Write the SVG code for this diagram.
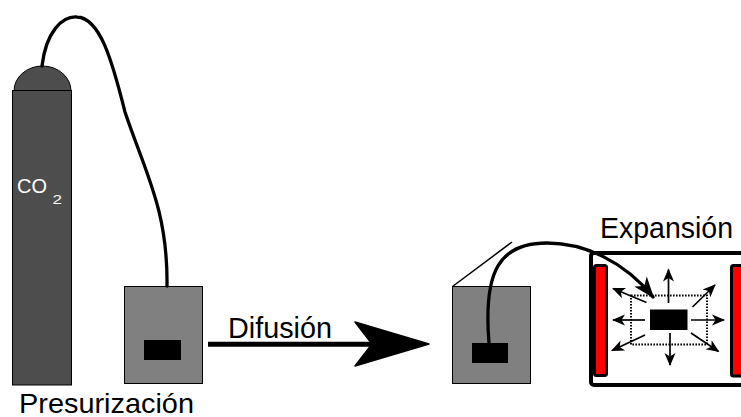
<svg xmlns="http://www.w3.org/2000/svg" width="741" height="417" viewBox="0 0 741 417">
  <style>
    .lbl { font-family: "Liberation Sans", Arial, sans-serif; fill: #000; }
    .hose { fill: none; stroke: #000; stroke-width: 3.3; stroke-linecap: round; }
    .box { fill: #808080; stroke: #000; stroke-width: 1; }
    .chip { fill: #000; }
    .ray { stroke: #000; stroke-width: 1.7; fill: none; marker-end: url(#tip); }
    .wall { fill: #ff0000; stroke: #000; stroke-width: 3; }
  </style>
  <defs>
    <marker id="tip" markerUnits="userSpaceOnUse" markerWidth="16" markerHeight="14" viewBox="-14 -7 16 14" refX="0" refY="0" orient="auto">
      <path d="M1,0 L-12,-5.5 L-8.5,0 L-12,5.5 Z" fill="#000"/>
    </marker>
    <marker id="hosetip" markerUnits="userSpaceOnUse" markerWidth="26" markerHeight="20" viewBox="-23 -10 26 20" refX="0" refY="0" orient="auto">
      <path d="M2,0 L-20,-8 L-14,0 L-20,8 Z" fill="#000"/>
    </marker>
  </defs>

  <!-- gas cylinder -->
  <g id="cylinder">
    <path d="M14,91 A28.5,25 0 0 1 71,91 Z" fill="#4d4d4d" stroke="#000" stroke-width="1"/>
    <rect x="12.5" y="90.5" width="59" height="294.5" fill="#4d4d4d" stroke="#000" stroke-width="1"/>
    <text class="lbl" x="17" y="193" font-size="20" style="fill:#fff">CO</text>
    <text class="lbl" x="52.5" y="204.3" font-size="12.5" textLength="9.5" lengthAdjust="spacingAndGlyphs" style="fill:#fff">2</text>
  </g>

  <!-- pressurised sample holder -->
  <g id="pressurization">
    <rect class="box" x="124.5" y="286.5" width="78" height="97"/>
    <rect class="chip" x="144" y="340" width="37" height="20"/>
    <text class="lbl" x="19" y="412.5" font-size="28" textLength="175" lengthAdjust="spacingAndGlyphs">Presurización</text>
  </g>

  <!-- diffusion chamber -->
  <g id="diffusion">
    <rect class="box" x="452.5" y="286.5" width="78" height="97"/>
    <line x1="452.5" y1="286.5" x2="512" y2="242" stroke="#000" stroke-width="1.5"/>
  </g>

  <!-- expansion chamber -->
  <g id="expansion">
    <rect x="591" y="253" width="200" height="132" rx="3" fill="#fff" stroke="#000" stroke-width="4"/>
    <rect class="wall" x="594.5" y="265.5" width="12" height="110" rx="2"/>
    <rect class="wall" x="731.5" y="265.5" width="30" height="110.5" rx="2"/>
    <rect x="631" y="295.5" width="76" height="49" fill="none" stroke="#000" stroke-width="2" stroke-dasharray="1.6 1.4"/>
    <rect class="chip" x="650" y="309.5" width="37.5" height="20.5"/>
    <line class="ray" x1="668.5" y1="303" x2="668.5" y2="269.5"/>
    <line class="ray" x1="670" y1="333" x2="670" y2="365"/>
    <line class="ray" x1="645" y1="320" x2="613" y2="320"/>
    <line class="ray" x1="691" y1="320" x2="724" y2="320"/>
    <line class="ray" x1="646.5" y1="302.5" x2="613" y2="288.5"/>
    <line class="ray" x1="692.5" y1="307" x2="715" y2="285"/>
    <line class="ray" x1="645" y1="335" x2="612" y2="350.5"/>
    <line class="ray" x1="691" y1="333" x2="718.5" y2="351.5"/>
    <text class="lbl" x="600" y="238.3" font-size="29" textLength="133" lengthAdjust="spacingAndGlyphs">Expansión</text>
  </g>

  <!-- connectors: gas hoses and the diffusion arrow -->
  <g id="connectors">
    <path class="hose" d="M42,66 C46,32 62,16 77,17 C100,18 112,60 125,112 C145,172 168,210 167,286"/>
    <path class="hose" d="M489,343 C483,270 500,243 547,243 C585,243 625,262 653,297" marker-end="url(#hosetip)"/>
    <line x1="208" y1="344.2" x2="380" y2="344.2" stroke="#000" stroke-width="5"/>
    <path d="M429,344 L355,322 L372,344 L355,366 Z" fill="#000" stroke="#000" stroke-width="1.5" stroke-linejoin="round"/>
    <text class="lbl" x="228" y="338" font-size="29" textLength="104" lengthAdjust="spacingAndGlyphs">Difusión</text>
  </g>

  <!-- sample inside the diffusion chamber, over the hose end -->
  <g id="diffusion-sample">
    <rect class="chip" x="472" y="343" width="36" height="20"/>
  </g>
</svg>
